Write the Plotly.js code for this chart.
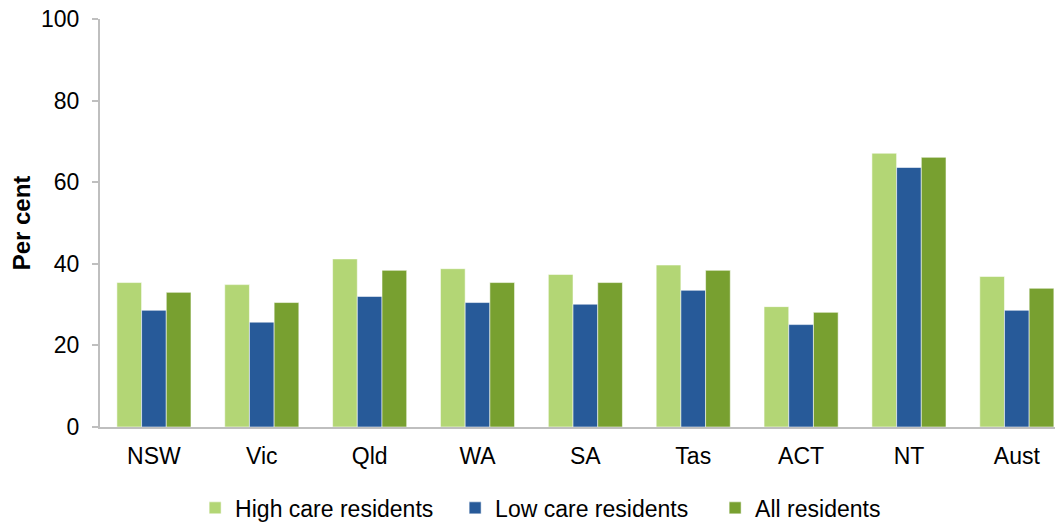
<!DOCTYPE html>
<html>
<head>
<meta charset="utf-8">
<script src="https://cdn.plot.ly/plotly-3.0.1.min.js"></script>
<style>html,body{margin:0;padding:0;background:#fff;}#chart{width:1060px;height:522px;}</style>
</head>
<body>
<div id="chart"></div>
<script>
const categories = ["NSW", "Vic", "Qld", "WA", "SA", "Tas", "ACT", "NT", "Aust"];
const highCare = [35.4, 34.9, 41.2, 38.8, 37.4, 39.7, 29.5, 67.1, 36.9];
const lowCare = [28.6, 25.7, 32.0, 30.5, 30.1, 33.5, 25.1, 63.6, 28.6];
const allRes = [33.0, 30.5, 38.4, 35.4, 35.4, 38.4, 28.1, 66.1, 34.0];
const yTicks = [0, 20, 40, 60, 80, 100];

const font = "Liberation Sans, Arial, sans-serif";
const mk = (name, y, color) => ({
  type: "bar", name: name, x: categories, y: y,
  marker: {color: color, line: {color: "rgba(255,255,255,0.55)", width: 1}},
  hoverinfo: "x+y+name"
});

const data = [
  mk("High care residents", highCare, "#B3D675"),
  mk("Low care residents", lowCare, "#275A99"),
  mk("All residents", allRes, "#78A030")
];

const layout = {
  width: 1060, height: 522,
  margin: {l: 100, r: 5, t: 19, b: 95, autoexpand: false},
  paper_bgcolor: "#fff", plot_bgcolor: "#fff",
  font: {family: font, size: 23, color: "#000"},
  barmode: "group", bargap: 0.313, bargroupgap: 0,
  showlegend: true,
  legend: {orientation: "h", xref: "container", yref: "container", x: 0.552, xanchor: "center",
           y: 0.027, yanchor: "middle", entrywidth: 215,
           font: {family: font, size: 23, color: "#000"}, itemwidth: 30, traceorder: "normal"},
  xaxis: {
    type: "category", range: [-0.5, 8.354], fixedrange: true, automargin: false,
    showline: true, linecolor: "#BFBFBF", linewidth: 2,
    ticks: "outside", ticklen: 7, tickcolor: "rgba(0,0,0,0)",
    tickfont: {family: font, size: 23, color: "#000"},
    showgrid: false, zeroline: false
  },
  yaxis: {
    range: [0, 100], tickvals: yTicks, ticktext: yTicks.map(String), automargin: false,
    showline: true, linecolor: "#BFBFBF", linewidth: 2,
    ticks: "outside", ticklen: 6, tickcolor: "#BFBFBF", tickwidth: 2,
    ticklabelstandoff: 8,
    tickfont: {family: font, size: 23, color: "#000"},
    showgrid: false, zeroline: false,
    title: {text: "<b>Per cent</b>", font: {family: font, size: 24, color: "#000"}, standoff: 4}
  }
};

Plotly.newPlot("chart", data, layout, {displayModeBar: false, staticPlot: true});
</script>
</body>
</html>
